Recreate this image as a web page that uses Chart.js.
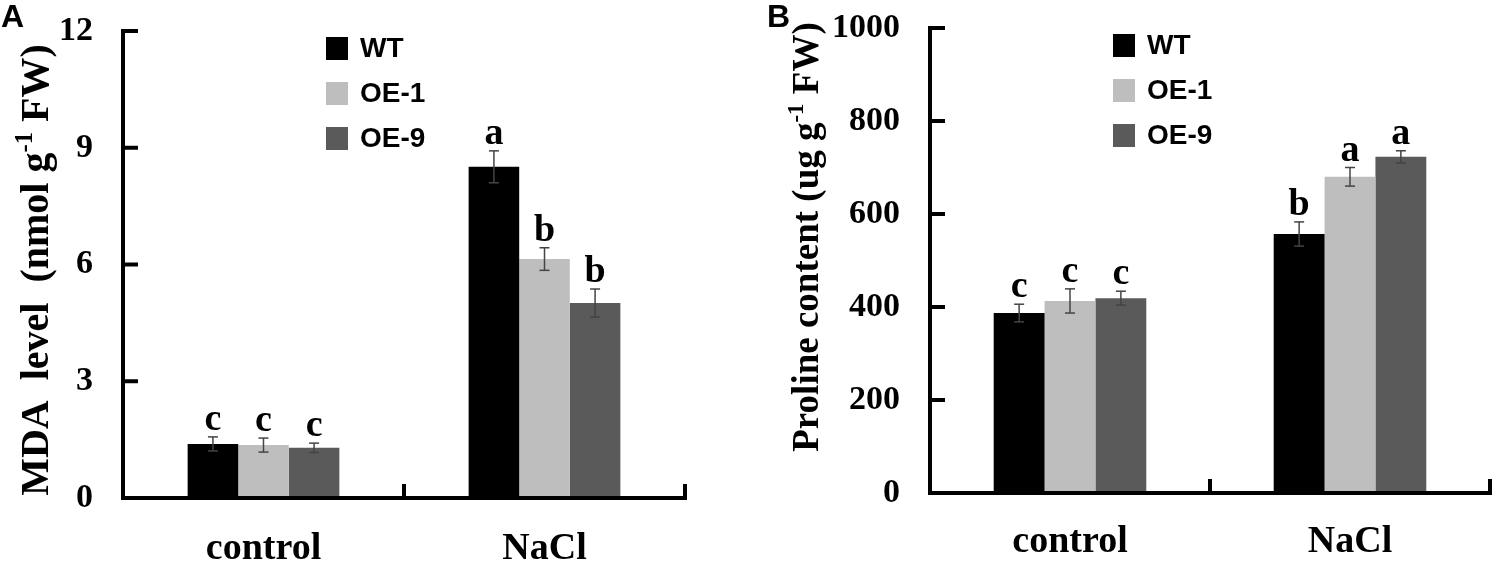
<!DOCTYPE html>
<html lang="en">

<head>
    <meta charset="UTF-8">
    <title>MDA and proline</title>
    <style>
        body { margin: 0; background: #fff; }
        .panel { position: absolute; top: 0; width: 750px; height: 570px; }
    </style>
</head>

<body>
    <div class="panel" style="left:0"><canvas id="chartA" width="750" height="570"></canvas></div>
    <div class="panel" style="left:750px"><canvas id="chartB" width="750" height="570"></canvas></div>

    <script src="https://cdn.jsdelivr.net/npm/chart.js"></script>
    <script>
        // categories and series
        const categories = ['control', 'NaCl'];
        const seriesNames = ['WT', 'OE-1', 'OE-9'];
        const seriesColors = ['#000000', '#bebebe', '#5a5a5a'];

        // A: MDA level (nmol g-1 FW)
        const mdaWT = [1.39, 8.51];
        const mdaOE1 = [1.36, 6.14];
        const mdaOE9 = [1.29, 5.01];
        const mdaErrWT = [0.18, 0.41];
        const mdaErrOE1 = [0.18, 0.29];
        const mdaErrOE9 = [0.12, 0.36];
        const mdaLetWT = ['c', 'a'];
        const mdaLetOE1 = ['c', 'b'];
        const mdaLetOE9 = ['c', 'b'];
        const mdaTicks = [0, 3, 6, 9, 12];

        // B: Proline content (ug g-1 FW)
        const proWT = [387, 557];
        const proOE1 = [413, 680];
        const proOE9 = [419, 723];
        const proErrWT = [19, 26];
        const proErrOE1 = [26, 20];
        const proErrOE9 = [15, 13];
        const proLetWT = ['c', 'b'];
        const proLetOE1 = ['c', 'a'];
        const proLetOE9 = ['c', 'a'];
        const proTicks = [0, 200, 400, 600, 800, 1000];

        const SERIF = "'Liberation Serif', 'Times New Roman', serif";
        const SANS = "'Liberation Sans', Arial, sans-serif";

        function line(ctx, x1, y1, x2, y2) {
            ctx.beginPath();
            ctx.moveTo(x1, y1);
            ctx.lineTo(x2, y2);
            ctx.stroke();
        }

        // error bars, letters, axes, legend, titles
        const figurePlugin = {
            id: 'figure',
            afterDatasetsDraw(chart) {
                const ctx = chart.ctx, ys = chart.scales.y;
                ctx.save();
                chart.data.datasets.forEach((ds, i) => {
                    chart.getDatasetMeta(i).data.forEach((bar, j) => {
                        const yt = ys.getPixelForValue(ds.data[j] + ds.errors[j]);
                        const yb = ys.getPixelForValue(ds.data[j] - ds.errors[j]);
                        ctx.strokeStyle = '#444';
                        ctx.lineWidth = 1.5;
                        line(ctx, bar.x, yt, bar.x, yb);
                        line(ctx, bar.x - 5, yt, bar.x + 5, yt);
                        line(ctx, bar.x - 5, yb, bar.x + 5, yb);
                        ctx.fillStyle = '#000';
                        ctx.font = 'bold 38px ' + SERIF;
                        ctx.textAlign = 'center';
                        ctx.textBaseline = 'alphabetic';
                        ctx.fillText(ds.letters[j], bar.x, yt - 7);
                    });
                });
                ctx.restore();
            },
            afterDraw(chart) {
                const ctx = chart.ctx, a = chart.chartArea, xs = chart.scales.x, ys = chart.scales.y;
                const o = chart.options.plugins.figure;
                ctx.save();
                ctx.strokeStyle = '#000';
                ctx.lineWidth = 4;
                line(ctx, a.left, a.top - 2, a.left, a.bottom + 2);
                line(ctx, a.left - 2, a.bottom, a.right + 2, a.bottom);
                ys.ticks.forEach(t => {
                    if (t.value > 0) {
                        const py = ys.getPixelForValue(t.value);
                        line(ctx, a.left, py, a.left + 15, py);
                    }
                });
                const mid = (xs.getPixelForValue(0) + xs.getPixelForValue(1)) / 2;
                line(ctx, mid, a.bottom, mid, a.bottom - 14);
                line(ctx, a.right, a.bottom, a.right, a.bottom - 14);

                // legend
                ctx.font = 'bold 28px ' + SANS;
                ctx.textAlign = 'left';
                ctx.textBaseline = 'middle';
                chart.data.datasets.forEach((ds, i) => {
                    const top = o.legendTop + i * 45;
                    ctx.fillStyle = ds.backgroundColor;
                    ctx.fillRect(o.legendLeft, top, 22, 23);
                    ctx.fillStyle = '#000';
                    ctx.fillText(ds.label, o.legendLeft + 34, top + 12);
                });

                // panel letter
                ctx.font = 'bold 32px ' + SANS;
                ctx.textBaseline = 'top';
                ctx.fillText(o.panel, o.panelX, 2);

                // y title with superscript
                const size = o.titleSize;
                const parts = [[o.title[0], size, 0], ['-1', size * 0.62, -size * 0.4], [o.title[1], size, 0]];
                let total = 0;
                parts.forEach(p => { ctx.font = 'bold ' + p[1] + 'px ' + SERIF; total += ctx.measureText(p[0]).width; });
                ctx.translate(o.titleX, o.titleY);
                ctx.rotate(-Math.PI / 2);
                ctx.textBaseline = 'alphabetic';
                let x = -total / 2;
                parts.forEach(p => {
                    ctx.font = 'bold ' + p[1] + 'px ' + SERIF;
                    ctx.fillText(p[0], x, p[2]);
                    x += ctx.measureText(p[0]).width;
                });
                ctx.restore();
            }
        };

        function makeChart(id, values, errors, letters, ticks, opt) {
            return new Chart(document.getElementById(id), {
                type: 'bar',
                data: {
                    labels: categories,
                    datasets: seriesNames.map((name, i) => ({
                        label: name,
                        data: values[i],
                        errors: errors[i],
                        letters: letters[i],
                        backgroundColor: seriesColors[i],
                        borderWidth: 0,
                        categoryPercentage: opt.catPct,
                        barPercentage: 1.0
                    }))
                },
                options: {
                    responsive: false,
                    animation: false,
                    devicePixelRatio: 1,
                    layout: { padding: { top: opt.top, right: opt.right, bottom: 0, left: 0 } },
                    plugins: {
                        legend: { display: false },
                        tooltip: { enabled: false },
                        figure: opt
                    },
                    scales: {
                        x: {
                            grid: { display: false, drawTicks: false },
                            border: { display: false },
                            ticks: { color: '#000', font: { family: SERIF, size: 38, weight: 'bold' }, padding: opt.xPad },
                            afterFit: s => { s.height = opt.xHeight; }
                        },
                        y: {
                            min: ticks[0],
                            max: ticks[ticks.length - 1],
                            afterBuildTicks: s => { s.ticks = ticks.map(v => ({ value: v })); },
                            grid: { display: false, drawTicks: false },
                            border: { display: false },
                            ticks: {
                                color: '#000', font: { family: SERIF, size: 34, weight: 'bold' }, padding: 30,
                                callback: v => String(v)
                            },
                            // tick padding should not push the plot down
                            afterFit: s => { s.width = opt.yWidth; s.paddingTop = 0; s.paddingBottom = 0; }
                        }
                    }
                },
                plugins: [figurePlugin]
            });
        }

        makeChart('chartA',
            [mdaWT, mdaOE1, mdaOE9],
            [mdaErrWT, mdaErrOE1, mdaErrOE9],
            [mdaLetWT, mdaLetOE1, mdaLetOE9],
            mdaTicks,
            {
                top: 31, right: 65, yWidth: 123, xHeight: 72, xPad: 28, catPct: 0.54,
                legendLeft: 326, legendTop: 37, panel: 'A', panelX: 1,
                title: ['MDA  level  (nmol g', ' FW)'], titleSize: 40, titleX: 48, titleY: 270
            });

        makeChart('chartB',
            [proWT, proOE1, proOE9],
            [proErrWT, proErrOE1, proErrOE9],
            [proLetWT, proLetOE1, proLetOE9],
            proTicks,
            {
                top: 28, right: 10, yWidth: 180, xHeight: 77, xPad: 26, catPct: 0.545,
                legendLeft: 363, legendTop: 34, panel: 'B', panelX: 17,
                title: ['Proline content (ug g', ' FW)'], titleSize: 37, titleX: 68, titleY: 237
            });
    </script>
</body>

</html>
